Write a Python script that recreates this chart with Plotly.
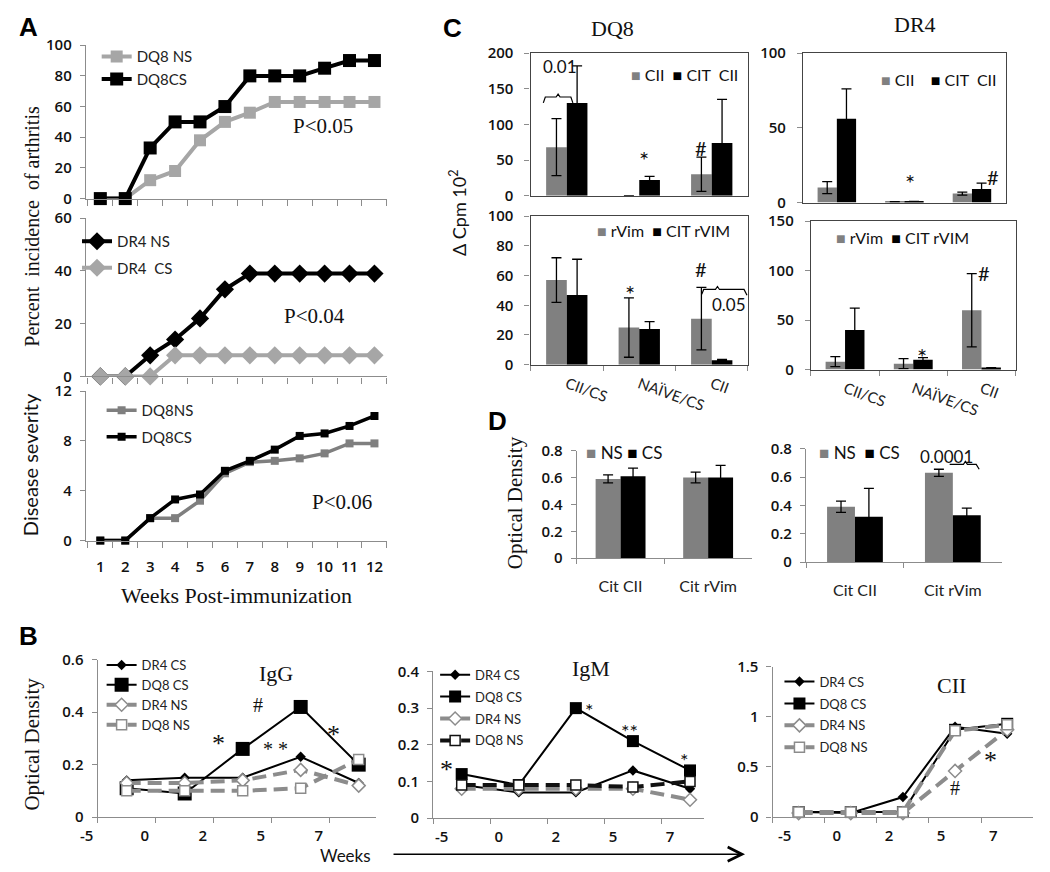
import plotly.graph_objects as go

W, H = 1050, 872
SANS = "Lato"
SERIF = "Liberation Serif"
BOLD = "Liberation Sans"
AX = "#8c8c8c"
LGRAY = "#a6a6a6"
MGRAY = "#7f7f7f"
BGRAY = "#808080"
TICKFONT = dict(family="Open Sans", size=15, color="#111", weight=600)

# ---------------- Panel A data ----------------
weeks = [1, 2, 3, 4, 5, 6, 7, 8, 9, 10, 11, 12]
inc_dq8_ns = [0, 0, 12, 18, 38, 50, 56, 63, 63, 63, 63, 63]
inc_dq8_cs = [0, 0, 33, 50, 50, 60, 80, 80, 80, 85, 90, 90]
inc_dr4_ns = [0, 0, 8, 14, 22, 33, 39, 39, 39, 39, 39, 39]
inc_dr4_cs = [0, 0, 0, 8, 8, 8, 8, 8, 8, 8, 8, 8]
sev_dq8_ns = [0, 0, 1.8, 1.8, 3.2, 5.4, 6.3, 6.4, 6.6, 7.0, 7.8, 7.8]
sev_dq8_cs = [0, 0, 1.8, 3.3, 3.7, 5.6, 6.4, 7.3, 8.4, 8.6, 9.2, 10.0]

# ---------------- Panel B data ----------------
b_weeks = ["-5", "0", "2", "5", "7"]
igg_dr4_cs = [0.14, 0.15, 0.15, 0.23, 0.13]
igg_dq8_cs = [0.11, 0.09, 0.26, 0.42, 0.20]
igg_dr4_ns = [0.13, 0.13, 0.14, 0.18, 0.12]
igg_dq8_ns = [0.10, 0.10, 0.10, 0.11, 0.22]
igm_dr4_cs = [0.09, 0.07, 0.07, 0.13, 0.08]
igm_dq8_cs = [0.12, 0.09, 0.30, 0.21, 0.13]
igm_dr4_ns = [0.08, 0.08, 0.08, 0.08, 0.05]
igm_dq8_ns = [0.09, 0.09, 0.09, 0.085, 0.10]
cii_dr4_cs = [0.05, 0.04, 0.20, 0.90, 0.83]
cii_dq8_cs = [0.05, 0.05, 0.05, 0.87, 0.93]
cii_dr4_ns = [0.04, 0.04, 0.04, 0.46, 0.87]
cii_dq8_ns = [0.05, 0.05, 0.05, 0.86, 0.92]

# ---------------- Panel C data ----------------
c_groups = ["CII/CS", "NAÏVE/CS", "CII"]
dq8_cii = [68, 0, 30]
dq8_cii_err = [40, 0, 24]
dq8_citcii = [130, 22, 74]
dq8_citcii_err = [52, 5, 61]
dr4_cii = [10, 0.5, 6]
dr4_cii_err = [4, 0, 1]
dr4_citcii = [56, 0.8, 9]
dr4_citcii_err = [20, 0, 4]
dq8_rvim = [57, 25, 31]
dq8_rvim_err = [15, 20, 21]
dq8_citrvim = [47, 24, 3]
dq8_citrvim_err = [24, 5, 0.5]
dr4_rvim = [8, 6, 60]
dr4_rvim_err = [5, 5, 37]
dr4_citrvim = [40, 10, 2]
dr4_citrvim_err = [22, 2, 0]

# ---------------- Panel D data ----------------
d_groups = ["Cit CII", "Cit rVim"]
dl_ns = [0.59, 0.60]
dl_ns_err = [0.03, 0.04]
dl_cs = [0.61, 0.60]
dl_cs_err = [0.06, 0.09]
dr_ns = [0.39, 0.63]
dr_ns_err = [0.04, 0.025]
dr_cs = [0.32, 0.33]
dr_cs_err = [0.20, 0.05]


def px(x):
    return x / W


def py(y):
    return 1 - y / H


fig = go.Figure()
layout = {}
annotations = []
shapes = []


def add_axes(n, x0, x1, y0, y1, xkw, ykw):
    sfx = "" if n == 1 else str(n)
    base = dict(showline=True, linecolor=AX, linewidth=1.2, showgrid=False,
                zeroline=False, tickfont=TICKFONT)
    xa = dict(base, domain=[px(x0), px(x1)], anchor="y" + sfx)
    xa.update(xkw)
    ya = dict(base, domain=[py(y1), py(y0)], anchor="x" + sfx, ticks="outside",
              ticklen=5, tickcolor=AX, tickmode="linear", tick0=0)
    ya.update(ykw)
    layout["xaxis" + sfx] = xa
    layout["yaxis" + sfx] = ya
    return "x" + sfx, "y" + sfx


def ann(text, x, y, size=15, family=SANS, angle=0, xanchor="center", color="#111"):
    annotations.append(dict(text=text, x=px(x), y=py(y), xref="paper", yref="paper",
                            showarrow=False, textangle=angle, xanchor=xanchor,
                            yanchor="middle", font=dict(family=family, size=size, color=color)))


def leg(x, y, size=15, gap=0):
    return dict(x=px(x), y=py(y), xanchor="left", yanchor="top", bgcolor="rgba(0,0,0,0)",
                font=dict(family=SANS, size=size, color="#222"), itemwidth=30,
                tracegroupgap=gap, traceorder="grouped", itemclick=False,
                itemdoubleclick=False)


def path(points):
    return "M " + " L ".join(f"{px(a):.5f},{py(b):.5f}" for a, b in points)


# ================= Panel A =================
a_minor = dict(tickmode="array", tickvals=[w - 0.5 for w in weeks] + [weeks[-1] + 0.5],
               ticks="outside", ticklen=6, tickcolor=AX)
ax_a = dict(range=[0.42, 12.5], tickmode="array", tickvals=weeks,
            ticktext=[str(w) for w in weeks], ticks="", minor=a_minor)

xa1, ya1 = add_axes(1, 70, 376, 35, 192, dict(ax_a, showticklabels=False),
                    dict(range=[0, 100], dtick=20, ticklabelstandoff=5))
xa2, ya2 = add_axes(2, 70, 376, 212, 374, dict(ax_a, showticklabels=False),
                    dict(range=[0, 60], dtick=20, ticklabelstandoff=5))
xa3, ya3 = add_axes(3, 70, 376, 389, 542, dict(ax_a, ticklabelstandoff=12),
                    dict(range=[0, 12], dtick=4, ticklabelstandoff=5))


def line_tr(x, y, xa, ya, name, color, width, symbol, size, lg, dash="solid",
            mfill=None, mline=None):
    return go.Scatter(x=x, y=y, xaxis=xa, yaxis=ya, name=name, mode="lines+markers",
                      line=dict(color=color, width=width, dash=dash),
                      marker=dict(symbol=symbol, size=size,
                                  color=mfill if mfill else color,
                                  line=dict(color=mline if mline else color,
                                            width=1.5 if mline else 0)),
                      legend=lg, legendgroup=lg + name, cliponaxis=False)


fig.add_trace(line_tr(weeks, inc_dq8_ns, xa1, ya1, "DQ8 NS", LGRAY, 4, "square", 12, "legend"))
fig.add_trace(line_tr(weeks, inc_dq8_cs, xa1, ya1, "DQ8CS", "#000", 4, "square", 13, "legend"))
fig.add_trace(line_tr(weeks, inc_dr4_ns, xa2, ya2, "DR4 NS", "#000", 4, "diamond", 14, "legend2"))
fig.add_trace(line_tr(weeks, inc_dr4_cs, xa2, ya2, "DR4  CS", LGRAY, 4, "diamond", 14, "legend2"))
fig.add_trace(line_tr(weeks, sev_dq8_ns, xa3, ya3, "DQ8NS", MGRAY, 3.5, "square", 8, "legend3"))
fig.add_trace(line_tr(weeks, sev_dq8_cs, xa3, ya3, "DQ8CS", "#000", 3.5, "square", 8, "legend3"))

layout["legend"] = leg(81, 30, 15, 0)
layout["legend2"] = leg(61, 219, 15, 4)
layout["legend3"] = leg(86, 392, 15, 4)

ann("<b>A</b>", 12, 16, 26, BOLD, color="#000")
ann("Percent\u00a0\u00a0incidence\u00a0\u00a0of arthritis", 15, 220, 20, SERIF, -90)
ann("Disease severity", 14, 464, 20, SANS, -90)
ann("Weeks Post-immunization", 223, 598, 22, SERIF)
ann("P<0.05", 311, 118, 21, SERIF)
ann("P<0.04", 302, 312, 21, SERIF)
ann("P<0.06", 330, 503, 21, SERIF)

# ================= Panel B =================
def b_axis(rng, shift):
    return dict(type="category", range=rng, tickson="boundaries", ticks="outside",
                ticklen=5, tickcolor=AX, ticklabelshift=shift, ticklabelstandoff=5,
                tickfont=TICKFONT)


xb1, yb1 = add_axes(4, 82, 365, 664, 825, b_axis([-0.5, 4.3], -40),
                    dict(range=[0, 0.6], dtick=0.2, ticklabelstandoff=5))
xb2, yb2 = add_axes(5, 423, 698, 676, 826, b_axis([-0.5, 4.24], -20),
                    dict(range=[0, 0.4], dtick=0.1, ticklabelstandoff=5))
xb3, yb3 = add_axes(6, 768, 1033, 671, 825, b_axis([-0.5, 4.5], -14),
                    dict(range=[0, 1.5], dtick=0.5, ticklabelstandoff=5))

BDASH = "14px,7px"
for (xa, ya, lg, dr4cs, dq8cs, dr4ns, dq8ns, sq, ns_col) in [
    (xb1, yb1, "legend4", igg_dr4_cs, igg_dq8_cs, igg_dr4_ns, igg_dq8_ns, 14, AX),
    (xb2, yb2, "legend5", igm_dr4_cs, igm_dq8_cs, igm_dr4_ns, igm_dq8_ns, 12, "#111"),
    (xb3, yb3, "legend6", cii_dr4_cs, cii_dq8_cs, cii_dr4_ns, cii_dq8_ns, 12, AX),
]:
    fig.add_trace(line_tr(b_weeks, dr4cs, xa, ya, "DR4 CS", "#000", 2, "diamond", 8, lg))
    fig.add_trace(line_tr(b_weeks, dq8cs, xa, ya, "DQ8 CS", "#000", 2, "square", sq, lg))
    fig.add_trace(line_tr(b_weeks, dr4ns, xa, ya, "DR4 NS", AX, 4, "diamond", 10, lg,
                          dash=BDASH, mfill="#fff", mline=AX))
    fig.add_trace(line_tr(b_weeks, dq8ns, xa, ya, "DQ8 NS", ns_col, 4, "square", 10, lg,
                          dash=BDASH, mfill="#fff", mline=ns_col))

layout["legend4"] = leg(86, 654, 13, 0)
layout["legend5"] = leg(425, 664, 13, 2)
layout["legend6"] = leg(775, 671, 13, 2)

ann("<b>B</b>", 12, 640, 26, BOLD, color="#000")
ann("Optical Density", 15, 750, 21, SERIF, -90)
ann("IgG", 263, 678, 22, SERIF)
ann("#", 245, 710, 20, SERIF)
ann("*", 205, 750, 26, SERIF)
ann("* *", 263, 755, 20, SERIF)
ann("*", 322, 740, 26, SERIF)
ann("Weeks", 334, 864, 17, SANS)
ann("IgM", 583, 673, 22, SERIF)
ann("*", 437, 776, 26, SERIF)
ann("*", 582, 715, 20, SANS)
ann("**", 623, 737, 20, SANS)
ann("*", 678, 767, 20, SANS)
ann("CII", 950, 690, 22, SERIF)
ann("*", 990, 767, 26, SERIF)
ann("#", 953, 795, 20, SERIF)
annotations.append(dict(x=px(740), y=py(863), ax=387 - 740, ay=0, xref="paper",
                        yref="paper", axref="pixel", ayref="pixel", text="",
                        showarrow=True, arrowhead=5, arrowsize=2, arrowwidth=1.4,
                        arrowcolor="#000"))

# ================= Panel C =================
BOX = "#444"


def c_xaxis(bottom):
    d = dict(type="category", linecolor=BOX, mirror=True, linewidth=1.3)
    if bottom:
        d.update(tickson="boundaries", ticks="outside", ticklen=5, tickcolor=AX,
                 tickangle=20, ticklabelstandoff=4,
                 tickfont=dict(family=SANS, size=15, color="#222"))
    else:
        d.update(showticklabels=False, ticks="")
    return d


def c_yaxis(rng, dt):
    return dict(range=rng, dtick=dt, linecolor=BOX, mirror=True, linewidth=1.3,
                ticklabelstandoff=8)


xc1, yc1 = add_axes(7, 522, 743, 43, 189, c_xaxis(False), c_yaxis([0, 200], 50))
xc2, yc2 = add_axes(8, 799, 1005, 43, 196, c_xaxis(False), c_yaxis([0, 100], 50))
xc3, yc3 = add_axes(9, 522, 743, 210, 362, c_xaxis(True), c_yaxis([0, 100], 20))
xc4, yc4 = add_axes(10, 807, 1015, 215, 367, c_xaxis(True), c_yaxis([0, 150], 50))


def bar_tr(x, y, err, xa, ya, color):
    return go.Bar(x=x, y=y, xaxis=xa, yaxis=ya, showlegend=False,
                  marker=dict(color=color, line=dict(width=0)),
                  error_y=dict(type="data", array=err, color="#000", thickness=1.3, width=5))


fig.add_trace(bar_tr(c_groups, dq8_cii, dq8_cii_err, xc1, yc1, BGRAY))
fig.add_trace(bar_tr(c_groups, dq8_citcii, dq8_citcii_err, xc1, yc1, "#000"))
fig.add_trace(bar_tr(c_groups, dr4_cii, dr4_cii_err, xc2, yc2, BGRAY))
fig.add_trace(bar_tr(c_groups, dr4_citcii, dr4_citcii_err, xc2, yc2, "#000"))
fig.add_trace(bar_tr(c_groups, dq8_rvim, dq8_rvim_err, xc3, yc3, BGRAY))
fig.add_trace(bar_tr(c_groups, dq8_citrvim, dq8_citrvim_err, xc3, yc3, "#000"))
fig.add_trace(bar_tr(c_groups, dr4_rvim, dr4_rvim_err, xc4, yc4, BGRAY))
fig.add_trace(bar_tr(c_groups, dr4_citrvim, dr4_citrvim_err, xc4, yc4, "#000"))

SQG = f"<span style='color:{BGRAY}'>■</span>"
SQB = "<span style='color:#000'>■</span>"
ann(f"{SQG}\u00a0CII\u00a0\u00a0{SQB}\u00a0CIT\u00a0\u00a0CII", 622, 65, 16, SANS, xanchor="left")
ann(f"{SQG}\u00a0CII\u00a0\u00a0\u00a0\u00a0{SQB}\u00a0CIT\u00a0\u00a0CII", 876, 70, 16, SANS, xanchor="left")
ann(f"{SQG}\u00a0rVim\u00a0\u00a0{SQB}\u00a0CIT\u00a0rVIM", 588, 225, 16, SANS, xanchor="left")
ann(f"{SQG}\u00a0rVim\u00a0\u00a0{SQB}\u00a0CIT\u00a0rVIM", 830, 232, 16, SANS, xanchor="left")

ann("<b>C</b>", 443, 17, 26, BOLD, color="#000")
ann("DQ8", 605, 18, 22, SERIF)
ann("DR4", 913, 14, 22, SERIF)
ann("\u0394 Cpm 10<sup>2</sup>", 449, 207, 18, SANS, -90)
ann("0.01", 552, 57, 17, SANS)
ann("*", 637, 152, 24, SANS)
ann("#", 695, 140, 20, SANS)
ann("*", 908, 176, 24, SANS)
ann("#", 992, 170, 20, SANS)
ann("*", 623, 289, 24, SANS)
ann("#", 695, 264, 20, SANS)
ann("0.05", 724, 300, 17, SANS)
ann("*", 920, 354, 24, SANS)
ann("#", 983, 268, 20, SANS)

shapes.append(dict(type="path", xref="paper", yref="paper", line=dict(color="#000", width=1.2),
                   path=path([(535, 94), (537, 88), (548, 88), (550, 85), (552, 88),
                              (563, 88), (565, 94)])))
shapes.append(dict(type="path", xref="paper", yref="paper", line=dict(color="#000", width=1.2),
                   path=path([(696, 290), (698, 285), (710, 285), (712, 282), (714, 285),
                              (739, 285), (742, 291)])))

# ================= Panel D =================
d_x = dict(type="category", tickson="boundaries", ticks="outside", ticklen=5, tickcolor=AX,
           ticklabelstandoff=14, tickfont=dict(family=SANS, size=16, color="#222"))
xd1, yd1 = add_axes(11, 569, 747, 450, 560, d_x,
                    dict(range=[0, 0.8], dtick=0.2, ticklabelstandoff=5))
xd2, yd2 = add_axes(12, 802, 1001, 448, 564, d_x,
                    dict(range=[0, 0.8], dtick=0.2, ticklabelstandoff=5))

fig.add_trace(bar_tr(d_groups, dl_ns, dl_ns_err, xd1, yd1, BGRAY))
fig.add_trace(bar_tr(d_groups, dl_cs, dl_cs_err, xd1, yd1, "#000"))
fig.add_trace(bar_tr(d_groups, dr_ns, dr_ns_err, xd2, yd2, BGRAY))
fig.add_trace(bar_tr(d_groups, dr_cs, dr_cs_err, xd2, yd2, "#000"))

ann(f"{SQG}\u00a0NS\u00a0{SQB}\u00a0CS", 576, 452, 17, SANS, xanchor="left")
ann(f"{SQG}\u00a0NS\u00a0\u00a0{SQB}\u00a0CS", 813, 452, 17, SANS, xanchor="left")
ann("<b>D</b>", 488, 420, 26, BOLD, color="#000")
ann("Optical Density", 507, 503, 21, SERIF, -90)
ann("0.0001", 945, 456, 17, SANS)
shapes.append(dict(type="path", xref="paper", yref="paper", line=dict(color="#000", width=1.2),
                   path=path([(948, 464), (962, 464), (964, 461), (966, 464), (975, 464),
                              (978, 469)])))

layout.update(width=W, height=H, margin=dict(l=0, r=0, t=0, b=0),
              paper_bgcolor="#fff", plot_bgcolor="rgba(0,0,0,0)",
              font=dict(family=SANS, color="#222"),
              barmode="group", bargap=0.43, bargroupgap=0,
              annotations=annotations, shapes=shapes, showlegend=True)
fig.update_layout(**layout)
fig.write_html("out.html", config={"displayModeBar": False},
               post_script="document.body.style.margin='0';document.body.style.overflow='hidden';")
